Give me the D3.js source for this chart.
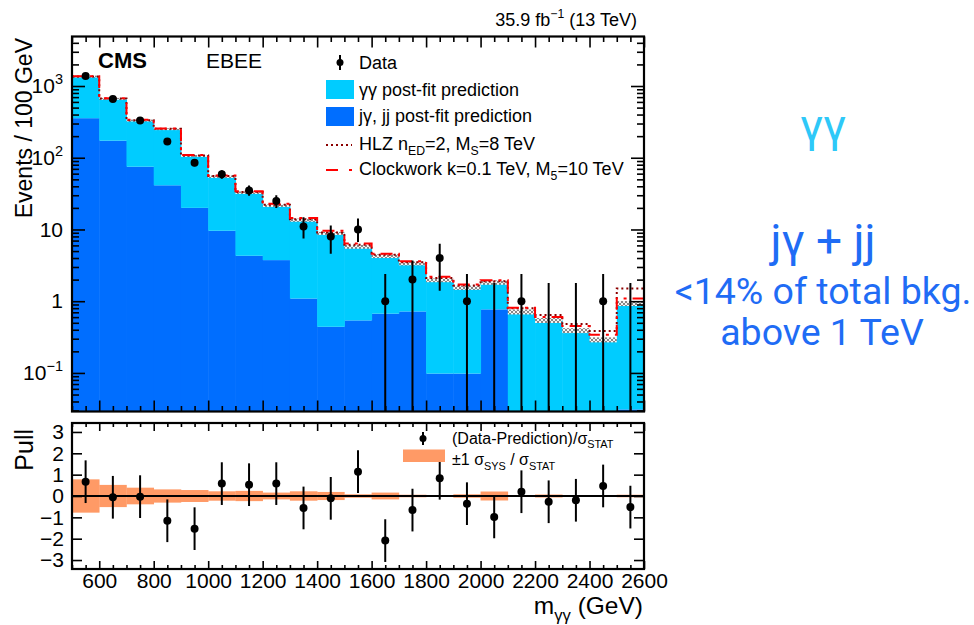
<!DOCTYPE html>
<html>
<head>
<meta charset="utf-8">
<script src="https://cdn.jsdelivr.net/npm/d3@7"></script>
<style>
  body { margin: 0; background: #fff; }
  text { font-family: "Liberation Sans", Arial, Helvetica, sans-serif; fill: #000; }
</style>
</head>
<body>
<script>
// bins of m_gg (GeV)
const binEdges = [500, 600, 700, 800, 900, 1000, 1100, 1200, 1300, 1400, 1500, 1600, 1700, 1800, 1900, 2000, 2100, 2200, 2300, 2400, 2500, 2600];

// post-fit background (events / 100 GeV)
const ggPred = [999, 489, 255, 209, 86, 44.9, 28.3, 17.7, 12.4, 8.36, 5.19, 3.58, 2.64, 1.86, 1.45, 1.05, 0.71, 0.54, 0.39, 0.29, 0.90];
const jgPred = [356, 173, 75, 41.3, 20, 9.6, 4.3, 3.74, 1.09, 0.44, 0.54, 0.67, 0.72, 0.098, 0.098, 0.77, 0, 0, 0, 0, 0.031];
const bkgUnc = [0.03, 0.03, 0.03, 0.03, 0.03, 0.04, 0.04, 0.04, 0.05, 0.05, 0.06, 0.06, 0.06, 0.06, 0.07, 0.07, 0.08, 0.08, 0.08, 0.08, 0.08];

// signal hypotheses (bkg + signal)
const hlzPred = [1360, 668, 334, 253, 107.5, 55.5, 33.3, 22.2, 13.9, 9.1, 6.1, 4.45, 3.5, 2.1, 1.65, 1.9, 0.80, 0.64, 0.48, 0.385, 1.5];
const cwPred = [1370, 675, 338, 256, 109, 56.5, 34, 22.8, 14.5, 9.6, 6.4, 4.6, 3.62, 2.19, 1.71, 1.96, 0.81, 0.60, 0.45, 0.34, 1.09];

// data
const dataCounts = [1380, 660, 330, 168, 85, 59, 35, 25, 11, 8, 10, 1, 2, 4, 1, 0, 1, 0, 0, 1, 0];
const dataLo = [1343, 634, 312, 155, 76, 51, 29.5, 20, 7.5, 4.6, 6.7, 0, 0, 1.4, 0, 0, 0, 0, 0, 0, 0];
const dataHi = [1417, 686, 348, 181, 94, 67, 41, 30, 14.8, 11.4, 14.2, 2.4, 3.7, 6.3, 2.4, 1.8, 2.4, 1.8, 1.8, 2.4, 1.8];

// pull panel
const pulls = [0.67, -0.06, -0.03, -1.16, -1.53, 0.58, 0.53, 0.58, -0.56, -0.11, 1.14, -2.09, -0.66, 0.83, -0.36, -0.98, 0.2, -0.27, -0.2, 0.47, -0.52];
const pullErr = [1, 1, 1, 1, 1, 1, 1, 1, 1, 1, 1, 1, 1, 1, 1, 1, 1, 1, 1, 1, 1];
const sysBand = [0.78, 0.52, 0.39, 0.31, 0.28, 0.22, 0.24, 0.16, 0.22, 0.19, 0.08, 0.16, 0.06, 0.04, 0.08, 0.21, 0.03, 0.07, 0.03, 0.03, 0.06];

const xTickLabels = [600, 800, 1000, 1200, 1400, 1600, 1800, 2000, 2200, 2400, 2600];
const pullTicks = [-3, -2, -1, 0, 1, 2, 3];

const bins = binEdges.slice(0, -1).map((lo, i) => ({
  lo: lo, hi: binEdges[i + 1],
  gg: ggPred[i], jg: jgPred[i], unc: bkgUnc[i],
  hlz: hlzPred[i], cw: cwPred[i],
  n: dataCounts[i], nlo: dataLo[i], nhi: dataHi[i],
  pull: pulls[i], perr: pullErr[i], sys: sysBand[i]
}));

const cyan = '#00ccff', blue = '#006eff', orange = '#ff9a66';

const svg = d3.select('body').append('svg').attr('width', 974).attr('height', 625);

// frames
const L = 72, R = 644;
const upTop = 36.5, upBot = 411.5, loTop = 423, loBot = 569;

const x = d3.scaleLinear().domain([500, 2600]).range([L, R]);
const yMin = 0.029;
const yU = d3.scaleLog().domain([yMin, 4900]).range([upBot, upTop]);
const yv = v => yU(Math.max(v, yMin));
const yL = d3.scaleLinear().domain([-3.42, 3.42]).range([loBot, loTop]);

const defs = svg.append('defs');
const hatch = defs.append('pattern').attr('id', 'hatch')
  .attr('patternUnits', 'userSpaceOnUse').attr('width', 4).attr('height', 4);
hatch.append('rect').attr('width', 4).attr('height', 4).attr('fill', '#f4f4f4');
hatch.append('path').attr('d', 'M0,0L4,4M4,0L0,4').attr('stroke', '#7a7a7a').attr('stroke-width', 0.9);

defs.append('clipPath').attr('id', 'clipU').append('rect')
  .attr('x', L).attr('y', upTop).attr('width', R - L).attr('height', upBot - upTop);

// ---------- upper panel ----------
const up = svg.append('g').attr('clip-path', 'url(#clipU)');

const stack = d3.stack().keys(['jg', 'gg'])(bins);
const fills = [blue, cyan];
stack.forEach((layer, k) => {
  up.append('g').selectAll('rect').data(layer).join('rect')
    .attr('x', d => x(d.data.lo))
    .attr('width', d => x(d.data.hi) - x(d.data.lo) + 0.5)
    .attr('y', d => yv(d[1]))
    .attr('height', d => Math.max(0, yv(d[0]) - yv(d[1])))
    .attr('fill', fills[k]);
});

// bkg uncertainty band
up.append('g').selectAll('rect').data(bins).join('rect')
  .attr('x', d => x(d.lo))
  .attr('width', d => x(d.hi) - x(d.lo))
  .attr('y', d => yv((d.gg + d.jg) * (1 + d.unc)))
  .attr('height', d => yv((d.gg + d.jg) * (1 - d.unc)) - yv((d.gg + d.jg) * (1 + d.unc)))
  .attr('fill', 'url(#hatch)');

const stepPts = key => bins.map(d => [d.lo, d[key]]).concat([[2600, bins[bins.length - 1][key]]]);
const step = d3.line().x(d => x(d[0])).y(d => yv(d[1])).curve(d3.curveStepAfter);

up.append('path').attr('d', step(stepPts('hlz')))
  .attr('fill', 'none').attr('stroke', '#8b0000').attr('stroke-width', 2).attr('stroke-dasharray', '2,3');
up.append('path').attr('d', step(stepPts('cw')))
  .attr('fill', 'none').attr('stroke', '#ff0000').attr('stroke-width', 2).attr('stroke-dasharray', '12,6,3,6');

// data
up.append('g').selectAll('line').data(bins).join('line')
  .attr('x1', d => x((d.lo + d.hi) / 2)).attr('x2', d => x((d.lo + d.hi) / 2))
  .attr('y1', d => yv(d.nlo)).attr('y2', d => yv(d.nhi))
  .attr('stroke', '#000').attr('stroke-width', 2);
up.append('g').selectAll('circle').data(bins.filter(d => d.n > 0)).join('circle')
  .attr('cx', d => x((d.lo + d.hi) / 2)).attr('cy', d => yv(d.n)).attr('r', 4).attr('fill', '#000');

// ---------- lower panel ----------
const lo = svg.append('g');
lo.append('g').selectAll('rect').data(bins).join('rect')
  .attr('x', d => x(d.lo)).attr('width', d => x(d.hi) - x(d.lo) + 0.3)
  .attr('y', d => yL(d.sys)).attr('height', d => yL(-d.sys) - yL(d.sys))
  .attr('fill', orange);
lo.append('line').attr('x1', L).attr('x2', R).attr('y1', yL(0)).attr('y2', yL(0))
  .attr('stroke', '#000').attr('stroke-width', 2);
lo.append('g').selectAll('line').data(bins).join('line')
  .attr('x1', d => x((d.lo + d.hi) / 2)).attr('x2', d => x((d.lo + d.hi) / 2))
  .attr('y1', d => yL(d.pull - d.perr)).attr('y2', d => yL(d.pull + d.perr))
  .attr('stroke', '#000').attr('stroke-width', 2);
lo.append('g').selectAll('circle').data(bins).join('circle')
  .attr('cx', d => x((d.lo + d.hi) / 2)).attr('cy', d => yL(d.pull)).attr('r', 4).attr('fill', '#000');

// ---------- axes ----------
const xMinor = d3.range(500, 2601, 50).filter(v => v % 200 !== 0);
function styleAxis(g) {
  g.select('.domain').remove();
  g.selectAll('line').attr('stroke', '#000').attr('stroke-width', 1.6);
  g.selectAll('text').attr('font-size', 21).attr('font-family', '"Liberation Sans", Arial, sans-serif').attr('fill', '#000');
}
function xAxes(yTop, yBot, big, small, labels) {
  svg.append('g').attr('transform', `translate(0,${yBot})`)
    .call(d3.axisBottom(x).tickValues(xMinor).tickSize(-small).tickFormat('')).call(styleAxis);
  svg.append('g').attr('transform', `translate(0,${yBot})`)
    .call(d3.axisBottom(x).tickValues(xTickLabels).tickSize(-big).tickPadding(4)
      .tickFormat(labels ? d3.format('d') : '')).call(styleAxis);
  svg.append('g').attr('transform', `translate(0,${yTop})`)
    .call(d3.axisTop(x).tickValues(xMinor).tickSize(-small).tickFormat('')).call(styleAxis);
  svg.append('g').attr('transform', `translate(0,${yTop})`)
    .call(d3.axisTop(x).tickValues(xTickLabels).tickSize(-big).tickFormat('')).call(styleAxis);
}
xAxes(upTop, upBot, 11, 5.5, false);
xAxes(loTop, loBot, 8, 4, true);

// log y axis
const yAll = yU.ticks();
const isMajor = v => Math.abs(Math.log10(v) - Math.round(Math.log10(v))) < 1e-6;
const yMajor = yAll.filter(isMajor), yMinorT = yAll.filter(v => !isMajor(v));
svg.append('g').attr('transform', `translate(${L},0)`)
  .call(d3.axisLeft(yU).tickValues(yMinorT).tickSize(-7).tickFormat('')).call(styleAxis);
const yAx = svg.append('g').attr('transform', `translate(${L},0)`)
  .call(d3.axisLeft(yU).tickValues(yMajor).tickSize(-13).tickPadding(9)).call(styleAxis);
yAx.selectAll('.tick text').each(function(d) {
  const e = Math.round(Math.log10(d));
  const t = d3.select(this).text(null);
  if (e === 0) { t.text('1'); return; }
  if (e === 1) { t.text('10'); return; }
  t.append('tspan').text('10');
  t.append('tspan').attr('dy', -9).attr('font-size', 14.5).text(e < 0 ? '\u2212' + (-e) : e);
});
svg.append('g').attr('transform', `translate(${R},0)`)
  .call(d3.axisRight(yU).tickValues(yMinorT).tickSize(-7).tickFormat('')).call(styleAxis);
svg.append('g').attr('transform', `translate(${R},0)`)
  .call(d3.axisRight(yU).tickValues(yMajor).tickSize(-13).tickFormat('')).call(styleAxis);

// pull y axis
svg.append('g').attr('transform', `translate(${L},0)`)
  .call(d3.axisLeft(yL).tickValues(pullTicks).tickSize(-10).tickPadding(8)
    .tickFormat(v => v < 0 ? '\u2212' + (-v) : String(v))).call(styleAxis);
svg.append('g').attr('transform', `translate(${R},0)`)
  .call(d3.axisRight(yL).tickValues(pullTicks).tickSize(-10).tickFormat('')).call(styleAxis);

// frames
svg.append('rect').attr('x', L).attr('y', upTop).attr('width', R - L).attr('height', upBot - upTop)
  .attr('fill', 'none').attr('stroke', '#000').attr('stroke-width', 2.2);
svg.append('rect').attr('x', L).attr('y', loTop).attr('width', R - L).attr('height', loBot - loTop)
  .attr('fill', 'none').attr('stroke', '#000').attr('stroke-width', 2.2);

// ---------- texts ----------
function rich(sel, px, py, parts, size, anchor) {
  const t = sel.append('text').attr('x', px).attr('y', py).attr('font-size', size)
    .attr('text-anchor', anchor || 'start');
  let off = 0;
  parts.forEach(p => {
    const kind = p[1];
    const target = kind === 'sub' ? 0.3 * size : kind === 'sup' ? -0.42 * size : 0;
    t.append('tspan').attr('dy', target - off).attr('font-size', kind ? size * 0.68 : size).text(p[0]);
    off = target;
  });
  return t;
}

rich(svg, 637, 26, [['35.9 fb'], ['\u22121', 'sup'], [' (13 TeV)']], 18, 'end');
svg.append('text').attr('x', 98).attr('y', 68).attr('font-size', 22).attr('font-weight', 'bold').text('CMS');
svg.append('text').attr('x', 206).attr('y', 68).attr('font-size', 21).text('EBEE');

svg.append('text').attr('transform', 'translate(32,38) rotate(-90)')
  .attr('text-anchor', 'end').attr('font-size', 23).text('Events / 100 GeV');
svg.append('text').attr('transform', 'translate(33,429) rotate(-90)')
  .attr('text-anchor', 'end').attr('font-size', 25).text('Pull');
rich(svg, 643, 614, [['m'], ['\u03b3\u03b3', 'sub'], [' (GeV)']], 24.5, 'end');

// legend (upper)
const lg = svg.append('g');
lg.append('line').attr('x1', 340).attr('x2', 340).attr('y1', 55).attr('y2', 70).attr('stroke', '#000').attr('stroke-width', 2);
lg.append('circle').attr('cx', 340).attr('cy', 62.5).attr('r', 3.5).attr('fill', '#000');
lg.append('text').attr('x', 359).attr('y', 68.5).attr('font-size', 18).text('Data');
lg.append('rect').attr('x', 326).attr('y', 80).attr('width', 28).attr('height', 19).attr('fill', cyan);
lg.append('text').attr('x', 359).attr('y', 95.5).attr('font-size', 18).text('\u03b3\u03b3  post-fit prediction');
lg.append('rect').attr('x', 326).attr('y', 107).attr('width', 28).attr('height', 19).attr('fill', blue);
lg.append('text').attr('x', 359).attr('y', 122).attr('font-size', 18).text('j\u03b3, jj post-fit prediction');
lg.append('line').attr('x1', 326).attr('x2', 352).attr('y1', 145).attr('y2', 145)
  .attr('stroke', '#8b0000').attr('stroke-width', 2).attr('stroke-dasharray', '2,3');
rich(lg, 359, 149.5, [['HLZ n'], ['ED', 'sub'], ['=2, M'], ['S', 'sub'], ['=8 TeV']], 18);
lg.append('line').attr('x1', 326).attr('x2', 353).attr('y1', 170).attr('y2', 170)
  .attr('stroke', '#ff0000').attr('stroke-width', 2).attr('stroke-dasharray', '12,11,3,20');
rich(lg, 359, 175, [['Clockwork k=0.1 TeV, M'], ['5', 'sub'], ['=10 TeV']], 18);

// legend (pull)
const lg2 = svg.append('g');
lg2.append('line').attr('x1', 423).attr('x2', 423).attr('y1', 432).attr('y2', 445).attr('stroke', '#000').attr('stroke-width', 2);
lg2.append('circle').attr('cx', 423).attr('cy', 438.5).attr('r', 3.5).attr('fill', '#000');
rich(lg2, 452, 443.5, [['(Data-Prediction)/\u03c3'], ['STAT', 'sub']], 16);
lg2.append('rect').attr('x', 403).attr('y', 449.5).attr('width', 42).attr('height', 12.5).attr('fill', orange);
rich(lg2, 452, 465, [['\u00b11 \u03c3'], ['SYS', 'sub'], [' / \u03c3'], ['STAT', 'sub']], 16);

// side annotations
const side = svg.append('g').attr('text-anchor', 'middle');
side.append('text').attr('x', 823).attr('y', 142).attr('font-size', 46)
  .style('font-family', 'Roboto, "Liberation Sans", sans-serif').style('fill', '#2ec8f8').text('\u03b3\u03b3');
side.append('text').attr('x', 823).attr('y', 257).attr('font-size', 46)
  .style('font-family', 'Roboto, "Liberation Sans", sans-serif').style('fill', '#1f6cf5').text('j\u03b3 + jj');
side.append('text').attr('x', 823).attr('y', 304).attr('font-size', 37.5)
  .style('font-family', 'Roboto, "Liberation Sans", sans-serif').style('fill', '#1f6cf5').text('<14% of total bkg.');
side.append('text').attr('x', 822).attr('y', 345).attr('font-size', 37.5)
  .style('font-family', 'Roboto, "Liberation Sans", sans-serif').style('fill', '#1f6cf5').text('above 1 TeV');
</script>
</body>
</html>
